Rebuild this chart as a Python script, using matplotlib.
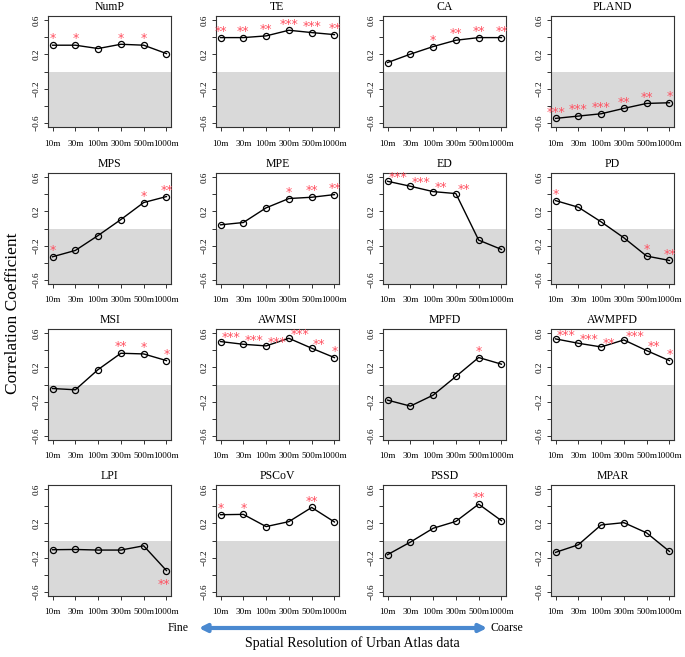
import matplotlib
matplotlib.use("Agg")
import matplotlib.pyplot as plt
from matplotlib.patches import FancyArrowPatch

plt.rcParams['font.family'] = ['Liberation Serif', 'DejaVu Serif']
plt.rcParams['axes.unicode_minus'] = True

resolutions = ["10m", "30m", "100m", "300m", "500m", "1000m"]

NumP = [0.308, 0.308, 0.269, 0.319, 0.308, 0.210]
TE = [0.397, 0.397, 0.417, 0.483, 0.456, 0.432]
CA = [0.105, 0.203, 0.292, 0.366, 0.397, 0.397]
PLAND = [-0.549, -0.522, -0.495, -0.432, -0.374, -0.366]
MPS = [-0.331, -0.257, -0.082, 0.105, 0.304, 0.374]
MPE = [0.043, 0.070, 0.242, 0.351, 0.366, 0.397]
ED = [0.553, 0.495, 0.432, 0.409, -0.136, -0.245]
PD = [0.327, 0.249, 0.078, -0.109, -0.323, -0.374]
MSI = [-0.047, -0.062, 0.175, 0.366, 0.358, 0.280]
AWMSI = [0.503, 0.471, 0.452, 0.541, 0.425, 0.315]
MPFD = [-0.183, -0.253, -0.125, 0.094, 0.316, 0.238]
AWMPFD = [0.534, 0.483, 0.440, 0.522, 0.397, 0.280]
LPI = [-0.108, -0.105, -0.112, -0.112, -0.062, -0.352]
PSCoV = [0.302, 0.306, 0.163, 0.221, 0.387, 0.217]
PSSD = [-0.166, -0.019, 0.143, 0.224, 0.426, 0.232]
MPAR = [-0.139, -0.050, 0.182, 0.209, 0.089, -0.128]

NumP_sig = ["*", "*", "", "*", "*", ""]
TE_sig = ["**", "**", "**", "***", "***", "**"]
CA_sig = ["", "", "*", "**", "**", "**"]
PLAND_sig = ["***", "***", "***", "**", "**", "*"]
MPS_sig = ["*", "", "", "", "*", "**"]
MPE_sig = ["", "", "", "*", "**", "**"]
ED_sig = ["***", "***", "**", "**", "", ""]
PD_sig = ["*", "", "", "", "*", "**"]
MSI_sig = ["", "", "", "**", "*", "*"]
AWMSI_sig = ["***", "***", "***", "***", "**", "*"]
MPFD_sig = ["", "", "", "", "*", ""]
AWMPFD_sig = ["***", "***", "**", "***", "**", "*"]
LPI_sig = ["", "", "", "", "", "**"]
PSCoV_sig = ["*", "*", "", "", "**", ""]
PSSD_sig = ["", "", "", "", "**", ""]
MPAR_sig = ["", "", "", "", "", ""]

panels = [
    ("NumP", NumP, NumP_sig), ("TE", TE, TE_sig), ("CA", CA, CA_sig), ("PLAND", PLAND, PLAND_sig),
    ("MPS", MPS, MPS_sig), ("MPE", MPE, MPE_sig), ("ED", ED, ED_sig), ("PD", PD, PD_sig),
    ("MSI", MSI, MSI_sig), ("AWMSI", AWMSI, AWMSI_sig), ("MPFD", MPFD, MPFD_sig), ("AWMPFD", AWMPFD, AWMPFD_sig),
    ("LPI", LPI, LPI_sig), ("PSCoV", PSCoV, PSCoV_sig), ("PSSD", PSSD, PSSD_sig), ("MPAR", MPAR, MPAR_sig),
]
star_mode = {"ED": "right", "AWMSI": "right", "AWMPFD": "right", "LPI": "below"}

W, H = 685, 657
fig = plt.figure(figsize=(W / 100, H / 100), dpi=100)

col_left = [48, 216, 383, 551]
row_top = [16, 173, 329, 485]
bw, bh = 123, 111

star_color = "#ff5060"
box_color = "#333333"
x = list(range(1, 7))

for i, (name, vals, sig) in enumerate(panels):
    r, c = divmod(i, 4)
    ax = fig.add_axes([col_left[c] / W, 1 - (row_top[r] + bh) / H, bw / W, bh / H])
    ax.set_xlim(0.8, 6.2)
    ax.set_ylim(-0.65, 0.65)
    ax.axhspan(-0.65, 0, color="#d9d9d9", lw=0, zorder=0)
    ax.plot(x, vals, color="black", lw=1.0, marker="o", ms=4.4, mfc="none", mec="black", mew=0.9, zorder=3)
    mode = star_mode.get(name, "above")
    for j, s in enumerate(sig):
        if not s:
            continue
        if mode == "right" and j < 5:
            off = ((1 + 3.3 * len(s)) * 0.72, 2.8)
        elif mode == "below":
            off = (-2, -10)
        else:
            off = (0, 4.5)
        ax.annotate(s, (x[j], vals[j]), xytext=off, textcoords="offset points",
                    ha="center", va="center", color=star_color, fontsize=9,
                    family="DejaVu Sans", zorder=4)
    ax.set_title(name, fontsize=8.5, pad=4)
    ax.set_xticks(x)
    ax.set_xticklabels(resolutions, fontsize=6.6)
    ax.set_yticks([-0.6, -0.4, -0.2, 0, 0.2, 0.4, 0.6])
    ax.set_yticklabels(["\u22120.6", "", "\u22120.2", "", "0.2", "", "0.6"], fontsize=6.6,
                       rotation=90, va="center")
    ax.tick_params(axis="both", length=3, width=0.7, color=box_color, pad=2.5)
    ax.tick_params(axis="x", pad=6)
    for sp in ax.spines.values():
        sp.set_color(box_color)
        sp.set_linewidth(0.8)

fig.text(13 / W, 1 - 313 / H, "Correlation Coefficient", rotation=90, ha="center", va="center", fontsize=12.5)
fig.text(178 / W, 1 - 628 / H, "Fine", ha="center", va="center", fontsize=8.5)
fig.text(507 / W, 1 - 628 / H, "Coarse", ha="center", va="center", fontsize=8.5)
fig.text(352 / W, 1 - 643 / H, "Spatial Resolution of Urban Atlas data", ha="center", va="center", fontsize=10)
arrow = FancyArrowPatch((196 / W, 1 - 628 / H), (490 / W, 1 - 628 / H), transform=fig.transFigure,
                        arrowstyle="<|-|>", mutation_scale=11, lw=3, color="#4a89d0")
fig.patches.append(arrow)

fig.savefig("out.png", dpi=100)
